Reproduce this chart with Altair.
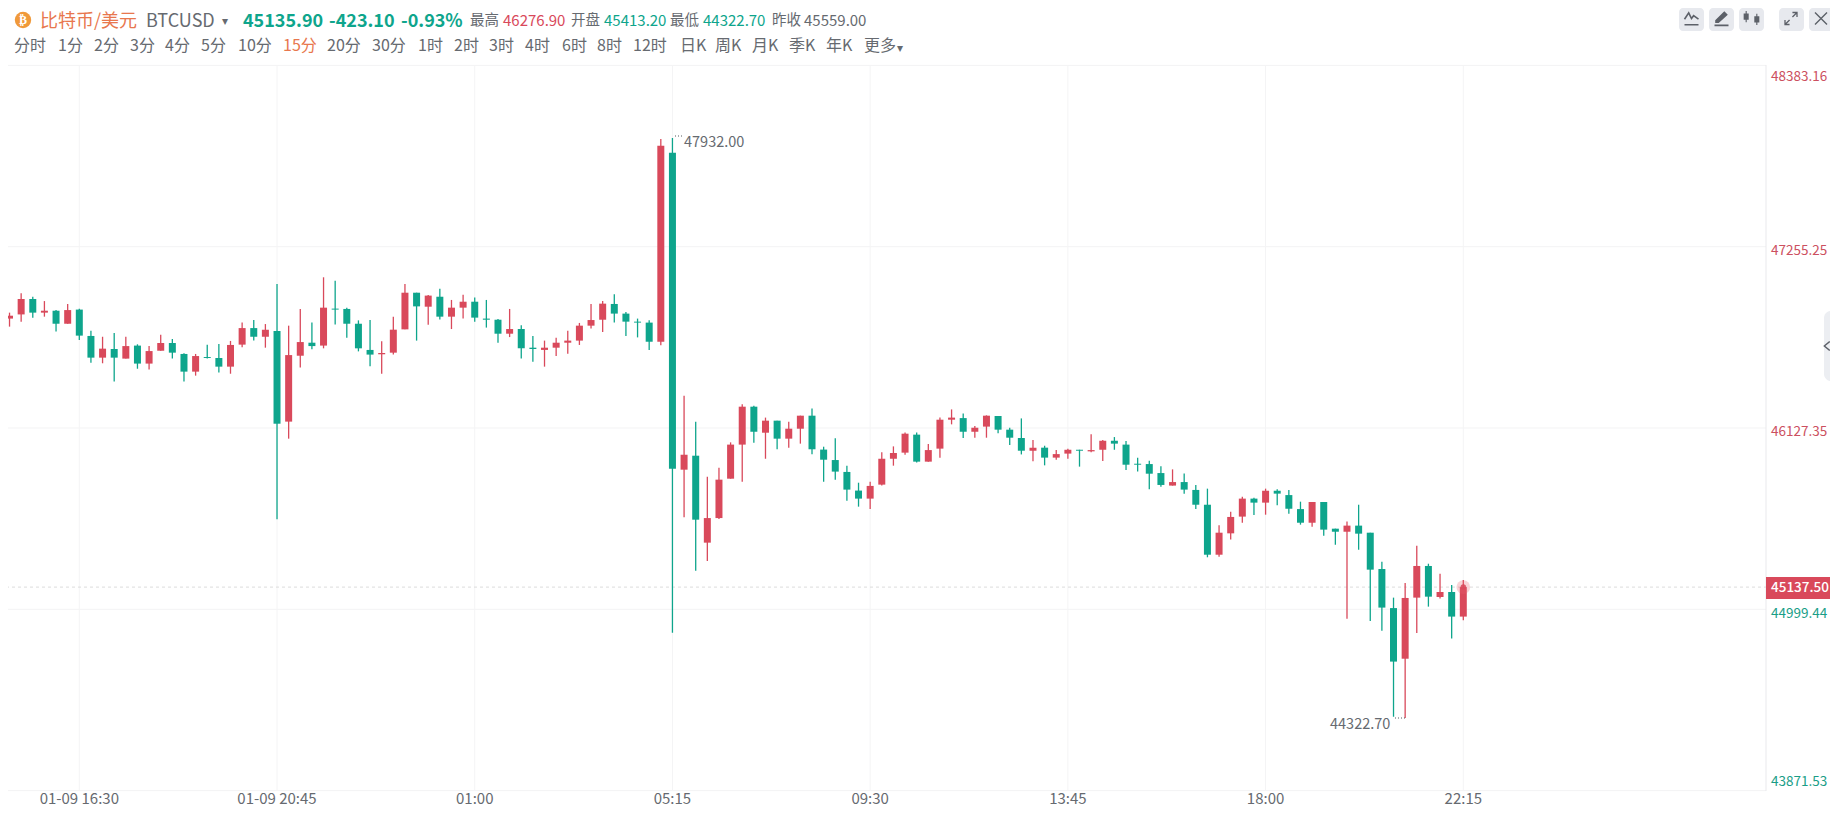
import altair as alt
import pandas as pd

# ---- candle values (15-minute bars) ----
OPEN = [46768,46808,46834,46930,46845,46857,46776,46864,46700,46565,46619,46559,46640,46528,46608,46656,46588,46478,46569,46563,
46509,46646,46749,46695,46731,46167,46577,46658,46640,46870,46868,46776,46613,46586,46596,46741,46969,46882,46944,46820,
46876,46913,46808,46801,46714,46743,46627,46613,46627,46658,46671,46764,46801,46899,46839,46789,46783,46664,47840,45868,
45955,45414,45567,45812,46024,46260,46098,46173,46061,46123,46204,45993,45928,45854,45738,45688,45775,45936,45974,46086,
45918,45999,46179,46189,46104,46136,46202,46117,46065,45986,46005,45943,45968,45992,45982,45992,46048,46024,45905,45903,
45847,45769,45791,45742,45650,45339,45472,45576,45688,45663,45737,45710,45623,45538,45667,45501,45482,45520,45476,45250,
45007,44692,45072,45269,45076,45107,44954]
HIGH = [46820,46845,46965,46944,46917,46861,46899,46870,46733,46695,46718,46695,46648,46637,46708,46681,46592,46588,46646,46650,
46669,46783,46799,46774,47023,46764,46868,46783,47065,47044,46876,46797,46799,46667,46820,47023,46969,46955,46994,46924,
46957,46940,46924,46805,46868,46766,46700,46671,46689,46733,46781,46899,46917,46959,46849,46808,46797,47925,47932,46328,
46167,45824,45880,46038,46275,46266,46192,46173,46167,46204,46248,46011,46063,45893,45787,45793,45976,46013,46100,46100,
46028,46192,46243,46218,46140,46206,46202,46129,46187,46053,46017,45990,45999,45992,46088,46053,46071,46046,45943,45924,
45889,45870,45845,45773,45750,45522,45607,45700,45694,45750,45746,45742,45669,45667,45667,45501,45545,45650,45476,45296,
45072,45163,45395,45283,45221,45150,45182]
LOW = [46762,46758,46789,46814,46820,46727,46776,46675,46534,46530,46416,46559,46496,46492,46608,46559,46416,46453,46559,46472,
46465,46629,46671,46627,45559,46061,46503,46617,46623,46772,46689,46604,46511,46465,46584,46741,46671,46770,46803,46743,
46808,46789,46752,46658,46693,46559,46540,46509,46575,46590,46644,46747,46725,46783,46700,46691,46613,46642,44854,45572,
45240,45300,45561,45812,45793,46036,45936,45995,46005,46030,45964,45793,45806,45675,45638,45623,45769,45893,45961,45912,
45918,45943,46150,46065,46067,46067,46094,46021,45963,45920,45895,45930,45936,45887,45976,45922,45992,45866,45856,45746,
45762,45769,45719,45623,45323,45327,45433,45538,45586,45588,45646,45594,45526,45513,45457,45401,44941,45370,44927,44866,
44331,44322.7,44852,45016,45066,44817,44931]
CLOSE = [46810,46826,46930,46845,46857,46776,46861,46702,46565,46621,46565,46637,46528,46606,46656,46596,46478,46575,46563,46509,
46644,46749,46695,46739,46154,46581,46662,46637,46876,46864,46776,46623,46584,46594,46739,46969,46884,46951,46820,46876,
46913,46814,46801,46714,46743,46623,46619,46627,46658,46671,46764,46799,46901,46839,46789,46783,46664,47884,45874,45961,
45557,45567,45806,46024,46260,46104,46173,46061,46123,46204,45995,45930,45856,45744,45688,45767,45936,45972,46092,45918,
45990,46179,46192,46104,46129,46204,46117,46067,45986,46005,45943,45965,45992,45986,45990,46048,46030,45899,45899,45843,
45773,45791,45744,45650,45339,45476,45574,45688,45663,45737,45719,45625,45538,45667,45495,45482,45520,45470,45246,45010,
44674,45070,45269,45078,45107,44954,45137.5]

RED = "#d9495b"
GREEN = "#0ea58c"
AXIS_RED = "#cc5060"
AXIS_GREEN = "#1a9e87"
GRAY = "#666a70"

GRID_PRICES = [48383.16, 47255.25, 46127.35, 44999.44, 43871.53]
GRID_LABELS = ["48383.16", "47255.25", "46127.35", "44999.44", "43871.53"]
TIME_INDEX = [7, 24, 41, 58, 75, 92, 109, 126]
TIME_LABELS = ["01-09 16:30", "01-09 20:45", "01:00", "05:15", "09:30", "13:45", "18:00", "22:15"]
LAST_PRICE = 45137.5
LAST_INDEX = 126
PERIODS = ["分时","1分","2分","3分","4分","5分","10分","15分","20分","30分","1时","2时","3时","4时","6时","8时","12时","日K","周K","月K","季K","年K","更多"]
ACTIVE_PERIOD = "15分"

FONT = "Noto Sans CJK SC"
W, H = 1822, 802
OX, OY = 8, 8   # page margin: target pixel -> view pixel

df = pd.DataFrame({"i": range(len(OPEN)), "open": OPEN, "high": HIGH, "low": LOW, "close": CLOSE})
df["dir"] = ["up" if c >= o else "down" for o, c in zip(OPEN, CLOSE)]

xs = alt.Scale(domain=[0.869, 157.53], nice=False, zero=False, padding=0)
ys = alt.Scale(domain=[43750.8, 48740.3], nice=False, zero=False, padding=0)
cs = alt.Scale(domain=["up", "down"], range=[RED, GREEN])
X = lambda f: alt.X(f, scale=xs, axis=None)
Y = lambda f: alt.Y(f, scale=ys, axis=None)
ONE = alt.Data(values=[{"a": 1}])


def vx(v): return alt.value(v - OX)
def vy(v): return alt.value(v - OY)


def text(s, x, y, color=GRAY, size=14, weight=400, align="left", font=FONT):
    return alt.Chart(alt.Data(values=[{"t": s}])).mark_text(
        font=font, fontSize=size, fontWeight=weight, color=color, align=align, baseline="middle"
    ).encode(x=vx(x), y=vy(y), text="t:N")


def box(x1, x2, y1, y2, color, radius=0, **kw):
    return alt.Chart(ONE).mark_rect(color=color, cornerRadius=radius, **kw).encode(
        x=vx(x1), x2=vx(x2), y=vy(y1), y2=vy(y2))


def hline(x1, x2, y, color, width=1, dash=None):
    kw = {"strokeDash": dash} if dash else {}
    return alt.Chart(ONE).mark_rule(color=color, strokeWidth=width, **kw).encode(
        x=vx(x1), x2=vx(x2), y=vy(y))


def glyph(path, x, y, px, filled, color="#5c6068", width=1.6):
    # a custom symbol path is scaled by sqrt(size)/2
    return alt.Chart(ONE).mark_point(shape=path, size=(2 * px) ** 2, filled=filled, color=color,
                                     strokeWidth=width, opacity=1).encode(x=vx(x), y=vy(y))


layers = []

# grid
grid_df = pd.DataFrame({"p": GRID_PRICES})
layers.append(alt.Chart(grid_df).mark_rule(color="#f3f3f4", strokeWidth=1).encode(
    y=Y("p:Q"), x=vx(0), x2=vx(1766)))
time_df = pd.DataFrame({"i": TIME_INDEX, "t": TIME_LABELS})
layers.append(alt.Chart(time_df).mark_rule(color="#f4f4f5", strokeWidth=1).encode(
    x=X("i:Q"), y=vy(65), y2=vy(791)))
layers.append(alt.Chart(time_df).mark_text(font=FONT, fontSize=15, color=GRAY, align="center", baseline="middle").encode(
    x=X("i:Q"), y=vy(799), text="t:N"))

# axis separator
layers.append(alt.Chart(ONE).mark_rule(color="#e9e9ec", strokeWidth=1).encode(x=vx(1766), y=vy(65), y2=vy(791)))

# last price line
last_df = pd.DataFrame({"p": [LAST_PRICE], "i": [LAST_INDEX], "t": ["45137.50"]})
layers.append(alt.Chart(last_df).mark_rule(color="#dcdcdc", strokeWidth=1, strokeDash=[3, 3]).encode(
    y=Y("p:Q"), x=vx(0), x2=vx(1766)))

# candles
base = alt.Chart(df)
layers.append(base.mark_rule(strokeWidth=1.3).encode(
    x=X("i:Q"), y=Y("low:Q"), y2="high:Q",
    color=alt.Color("dir:N", scale=cs, legend=None)))
layers.append(base.mark_bar(size=7, cornerRadius=0).encode(
    x=X("i:Q"), y=Y("open:Q"), y2="close:Q",
    color=alt.Color("dir:N", scale=cs, legend=None)))

# pulse on the last bar
layers.append(alt.Chart(last_df).mark_point(filled=True, color="#e8606f", opacity=0.28, size=190).encode(
    x=X("i:Q"), y=Y("p:Q")))
layers.append(alt.Chart(last_df).mark_point(filled=True, color=RED, opacity=0.9, size=30).encode(
    x=X("i:Q"), y=Y("p:Q")))

# high / low annotations
layers.append(hline(675, 683, 136, "#555a60", 1, [1, 2]))
layers.append(text("47932.00", 684, 143, GRAY, 14.5))
layers.append(hline(1395, 1405, 718, "#555a60", 1, [1, 2]))
layers.append(text("44322.70", 1330, 725, GRAY, 14.5))

# price axis labels
for p, lab, dy in zip(GRID_PRICES, GRID_LABELS, [12, 4, 4, 5, -9]):
    col = AXIS_RED if p > 45559 else AXIS_GREEN
    layers.append(alt.Chart(pd.DataFrame({"p": [p], "t": [lab]})).mark_text(
        font=FONT, fontSize=13.5, color=col, align="left", baseline="middle", dy=dy
    ).encode(y=Y("p:Q"), x=vx(1771), text="t:N"))

# last price tag
layers.append(box(1766, 1838, 577, 599, RED))
layers.append(text("45137.50", 1771, 587.5, "#ffffff", 13.5, 500))

# header row 1 (kept just inside the top of the page area)
layers.append(alt.Chart(ONE).mark_point(filled=True, color="#f0993a", opacity=1, size=270).encode(x=vx(23), y=vy(20)))
layers.append(text("₿", 23, 20, "#ffffff", 12, 700, "center", "DejaVu Sans"))
layers.append(text("比特币/美元", 40, 22, "#e8774e", 18))
layers.append(text("BTCUSD", 146, 22, GRAY, 18))
layers.append(text("▾", 222, 21, GRAY, 12, font="DejaVu Sans"))
layers.append(text("45135.90", 243, 22, GREEN, 18, 700))
layers.append(text("-423.10", 329, 22, GREEN, 18, 700))
layers.append(text("-0.93%", 401, 22, GREEN, 18, 700))
for s, x, c, fs in [("最高", 470, GRAY, 14.5), ("46276.90", 503, RED, 15), ("开盘", 571, GRAY, 14.5), ("45413.20", 604, GREEN, 15),
                    ("最低", 670, GRAY, 14.5), ("44322.70", 703, GREEN, 15), ("昨收", 772, GRAY, 14.5), ("45559.00", 804, GRAY, 15)]:
    layers.append(text(s, x, 21, c, fs))

# header row 2
PERIOD_LEFT = [14, 58, 94, 130, 165, 201, 238, 283, 327, 372, 418, 454, 489, 525, 562, 597, 633, 680, 715, 752, 789, 826, 864]
for s, x in zip(PERIODS, PERIOD_LEFT):
    layers.append(text(s, x, 46, "#e8774e" if s == ACTIVE_PERIOD else GRAY, 16))
layers.append(text("▾", 897, 48, GRAY, 12, font="DejaVu Sans"))

# toolbar buttons
for a in [1679, 1709, 1739, 1779, 1809]:
    layers.append(box(a, a + 25, 8, 31, "#e7e9ee", 4))
layers.append(glyph("M-0.5,0.05 L-0.2,-0.4 L0,0 L0.15,-0.2 L0.5,0.05 M-0.5,0.45 L0.5,0.45", 1691.5, 18.5, 14, False))
layers.append(glyph("M-0.45,0.2 L0.2,-0.45 L0.45,-0.2 L-0.2,0.4 L-0.45,0.4Z M-0.5,0.5 L0.5,0.5 L0.5,0.62 L-0.5,0.62Z", 1721.5, 17.5, 14, True))
layers.append(glyph("M-0.42,-0.5 L-0.34,-0.5 L-0.34,-0.32 L-0.2,-0.32 L-0.2,0.12 L-0.34,0.12 L-0.34,0.3 L-0.42,0.3 L-0.42,0.12 L-0.56,0.12 L-0.56,-0.32 L-0.42,-0.32Z "
                    "M0.34,-0.3 L0.42,-0.3 L0.42,-0.12 L0.56,-0.12 L0.56,0.32 L0.42,0.32 L0.42,0.5 L0.34,0.5 L0.34,0.32 L0.2,0.32 L0.2,-0.12 L0.34,-0.12Z", 1751.5, 18, 14, True))
layers.append(glyph("M-0.5,0.5 L-0.12,0.12 M0.12,-0.12 L0.5,-0.5 M0.12,-0.5 L0.5,-0.5 L0.5,-0.12 M-0.5,0.12 L-0.5,0.5 L-0.12,0.5", 1791, 18.5, 12, False, width=1.3))
layers.append(glyph("M-0.5,-0.5 L0.5,0.5 M-0.5,0.5 L0.5,-0.5", 1821, 18.5, 12, False, width=1.4))

# collapse tab
layers.append(alt.Chart(ONE).mark_rect(color="#eceef2", cornerRadiusTopLeft=8, cornerRadiusBottomLeft=8).encode(
    x=vx(1824), x2=vx(1838), y=vy(311), y2=vy(381)))
layers.append(glyph("M0.3,-0.5 L-0.3,0 L0.3,0.5", 1827, 346, 9, False, width=1.4))

chart = alt.layer(*layers).resolve_scale(x="shared", y="shared", color="shared").properties(
    width=W, height=H, padding=0,
    autosize=alt.AutoSizeParams(type="none", contains="content"),
    background="#ffffff",
).configure_view(strokeWidth=0)

chart.save("out.html", embed_options={"renderer": "svg", "actions": False})
